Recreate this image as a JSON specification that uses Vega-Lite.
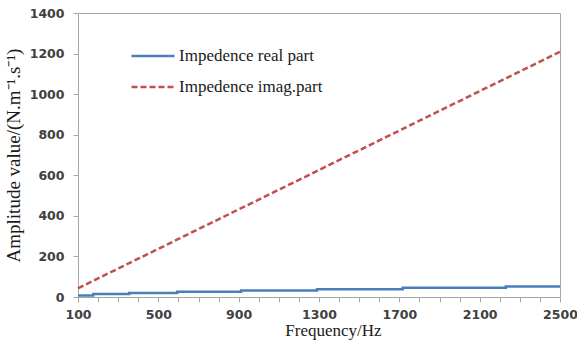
{
  "$schema": "https://vega.github.io/schema/vega-lite/v6.json",
  "width": 482,
  "height": 284,
  "autosize": {"type": "none"},
  "padding": {"left": 78, "top": 13, "right": 17, "bottom": 56},
  "background": "white",
  "config": {
    "view": {"stroke": "#a6a6a6", "strokeWidth": 1},
    "axis": {
      "grid": false,
      "domainColor": "#a6a6a6",
      "tickColor": "#a6a6a6",
      "tickSize": 5,
      "labelFont": "DejaVu Sans",
      "labelFontWeight": "bold",
      "labelFontSize": 12.5,
      "labelColor": "#404040",
      "labelFlush": false,
      "titleFont": "Liberation Serif",
      "titleFontWeight": "normal",
      "titleFontSize": 17,
      "titleColor": "#1a1a1a"
    },
    "legend": {
      "labelFont": "Liberation Serif",
      "labelFontSize": 17,
      "labelColor": "#1a1a1a",
      "labelLimit": 300
    }
  },
  "data": {
    "values": [
      {"freq": 100, "value": 8, "part": "Impedence real part"},
      {"freq": 176, "value": 15, "part": "Impedence real part"},
      {"freq": 355, "value": 20, "part": "Impedence real part"},
      {"freq": 594, "value": 26, "part": "Impedence real part"},
      {"freq": 912, "value": 32, "part": "Impedence real part"},
      {"freq": 1290, "value": 38, "part": "Impedence real part"},
      {"freq": 1717, "value": 45, "part": "Impedence real part"},
      {"freq": 2230, "value": 52, "part": "Impedence real part"},
      {"freq": 2500, "value": 52, "part": "Impedence real part"},
      {"freq": 100, "value": 43, "part": "Impedence imag.part"},
      {"freq": 200, "value": 92, "part": "Impedence imag.part"},
      {"freq": 300, "value": 140, "part": "Impedence imag.part"},
      {"freq": 400, "value": 189, "part": "Impedence imag.part"},
      {"freq": 500, "value": 237, "part": "Impedence imag.part"},
      {"freq": 600, "value": 286, "part": "Impedence imag.part"},
      {"freq": 700, "value": 335, "part": "Impedence imag.part"},
      {"freq": 800, "value": 383, "part": "Impedence imag.part"},
      {"freq": 900, "value": 432, "part": "Impedence imag.part"},
      {"freq": 1000, "value": 480, "part": "Impedence imag.part"},
      {"freq": 1100, "value": 529, "part": "Impedence imag.part"},
      {"freq": 1200, "value": 577, "part": "Impedence imag.part"},
      {"freq": 1300, "value": 626, "part": "Impedence imag.part"},
      {"freq": 1400, "value": 675, "part": "Impedence imag.part"},
      {"freq": 1500, "value": 723, "part": "Impedence imag.part"},
      {"freq": 1600, "value": 772, "part": "Impedence imag.part"},
      {"freq": 1700, "value": 820, "part": "Impedence imag.part"},
      {"freq": 1800, "value": 869, "part": "Impedence imag.part"},
      {"freq": 1900, "value": 918, "part": "Impedence imag.part"},
      {"freq": 2000, "value": 966, "part": "Impedence imag.part"},
      {"freq": 2100, "value": 1015, "part": "Impedence imag.part"},
      {"freq": 2200, "value": 1063, "part": "Impedence imag.part"},
      {"freq": 2300, "value": 1112, "part": "Impedence imag.part"},
      {"freq": 2400, "value": 1160, "part": "Impedence imag.part"},
      {"freq": 2500, "value": 1209, "part": "Impedence imag.part"}
    ]
  },
  "encoding": {
    "x": {
      "field": "freq",
      "type": "quantitative",
      "scale": {"domain": [100, 2500], "nice": false, "zero": false},
      "axis": {
        "title": "Frequency/Hz",
        "values": [100, 200, 300, 400, 500, 600, 700, 800, 900, 1000, 1100, 1200, 1300, 1400, 1500, 1600, 1700, 1800, 1900, 2000, 2100, 2200, 2300, 2400, 2500],
        "labelExpr": "(datum.value - 100) % 400 == 0 ? format(datum.value, 'd') : ''",
        "labelPadding": 6,
        "labelOverlap": false,
        "titlePadding": 2,
        "titleX": 255
      }
    },
    "y": {
      "field": "value",
      "type": "quantitative",
      "scale": {"domain": [0, 1400], "nice": false},
      "axis": {
        "title": "Amplitude value/(N.m⁻¹.s⁻¹)",
        "values": [0, 200, 400, 600, 800, 1000, 1200, 1400],
        "format": "d",
        "labelPadding": 9,
        "titlePadding": 6,
        "titleFontSize": 19
      }
    },
    "color": {
      "field": "part",
      "type": "nominal",
      "scale": {
        "domain": ["Impedence real part", "Impedence imag.part"],
        "range": ["#4a7ebb", "#c0504d"]
      },
      "legend": {
        "title": null,
        "orient": "none",
        "legendX": 52,
        "legendY": 20,
        "symbolType": "stroke",
        "symbolSize": 1849,
        "symbolStrokeWidth": 2.5,
        "rowPadding": -5,
        "labelOffset": 3
      }
    },
    "strokeDash": {
      "field": "part",
      "type": "nominal",
      "scale": {
        "domain": ["Impedence real part", "Impedence imag.part"],
        "range": [[1, 0], [6, 3]]
      },
      "legend": null
    }
  },
  "layer": [
    {
      "transform": [{"filter": "datum.part == 'Impedence real part'"}],
      "mark": {"type": "line", "interpolate": "step-after", "strokeWidth": 2.5}
    },
    {
      "transform": [{"filter": "datum.part == 'Impedence imag.part'"}],
      "mark": {"type": "line", "strokeWidth": 2.5}
    }
  ]
}
